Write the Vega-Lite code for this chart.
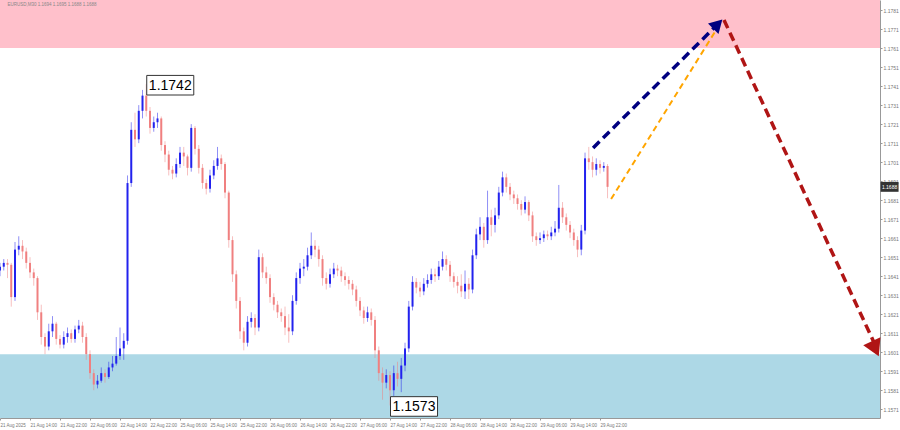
{
  "$schema": "https://vega.github.io/schema/vega-lite/v6.json",
  "width": 880,
  "height": 418,
  "autosize": "none",
  "padding": {"left": 0, "top": 0, "right": 20, "bottom": 12},
  "background": "white",
  "config": {"view": {"stroke": null}, "axis": {"grid": false, "labelOverlap": false}, "font": "Liberation Sans"},
  "datasets": {
    "zones": [
      {"zone": "resistance", "lo": 1.1761, "hi": 1.17863},
      {"zone": "support", "lo": 1.15664, "hi": 1.1600}
    ],
    "candles": [
      {"i":0,"o":1.1644,"h":1.1648,"l":1.1641,"c":1.1646},
      {"i":2,"o":1.1646,"h":1.1650,"l":1.1644,"c":1.1648},
      {"i":4,"o":1.1648,"h":1.1650,"l":1.1640,"c":1.1647},
      {"i":6,"o":1.1647,"h":1.1648,"l":1.1625,"c":1.1630},
      {"i":8,"o":1.1630,"h":1.1659,"l":1.1628,"c":1.1655},
      {"i":10,"o":1.1655,"h":1.1662,"l":1.1652,"c":1.1657},
      {"i":12,"o":1.1657,"h":1.1660,"l":1.1650,"c":1.1654},
      {"i":14,"o":1.1654,"h":1.1656,"l":1.1645,"c":1.1648},
      {"i":16,"o":1.1648,"h":1.1651,"l":1.1640,"c":1.1643},
      {"i":18,"o":1.1643,"h":1.1645,"l":1.1636,"c":1.1640},
      {"i":20,"o":1.1640,"h":1.1641,"l":1.1618,"c":1.1622},
      {"i":22,"o":1.1622,"h":1.1626,"l":1.1605,"c":1.1609},
      {"i":24,"o":1.1609,"h":1.1611,"l":1.1600,"c":1.1604},
      {"i":26,"o":1.1604,"h":1.1616,"l":1.1602,"c":1.1612},
      {"i":28,"o":1.1612,"h":1.1620,"l":1.1609,"c":1.1616},
      {"i":30,"o":1.1616,"h":1.1617,"l":1.1605,"c":1.1608},
      {"i":32,"o":1.1608,"h":1.1610,"l":1.1603,"c":1.1605},
      {"i":34,"o":1.1605,"h":1.1612,"l":1.1603,"c":1.1609},
      {"i":36,"o":1.1609,"h":1.1614,"l":1.1606,"c":1.1611},
      {"i":38,"o":1.1611,"h":1.1613,"l":1.1606,"c":1.1608},
      {"i":40,"o":1.1608,"h":1.1615,"l":1.1606,"c":1.1613},
      {"i":42,"o":1.1613,"h":1.1618,"l":1.1611,"c":1.1615},
      {"i":44,"o":1.1615,"h":1.1617,"l":1.1606,"c":1.1609},
      {"i":46,"o":1.1609,"h":1.1611,"l":1.1597,"c":1.1600},
      {"i":48,"o":1.1600,"h":1.1602,"l":1.1587,"c":1.1590},
      {"i":50,"o":1.1590,"h":1.1592,"l":1.1581,"c":1.1584},
      {"i":52,"o":1.1584,"h":1.1589,"l":1.1582,"c":1.1586},
      {"i":54,"o":1.1586,"h":1.1593,"l":1.1585,"c":1.1590},
      {"i":56,"o":1.1590,"h":1.1592,"l":1.1585,"c":1.1588},
      {"i":58,"o":1.1588,"h":1.1596,"l":1.1587,"c":1.1593},
      {"i":60,"o":1.1593,"h":1.1599,"l":1.1591,"c":1.1595},
      {"i":62,"o":1.1595,"h":1.1609,"l":1.1594,"c":1.1599},
      {"i":64,"o":1.1599,"h":1.1614,"l":1.1597,"c":1.1603},
      {"i":66,"o":1.1603,"h":1.1611,"l":1.1597,"c":1.1607},
      {"i":68,"o":1.1607,"h":1.1694,"l":1.1605,"c":1.1690},
      {"i":70,"o":1.1690,"h":1.1722,"l":1.1688,"c":1.1718},
      {"i":72,"o":1.1718,"h":1.1727,"l":1.1709,"c":1.1713},
      {"i":74,"o":1.1713,"h":1.1731,"l":1.1711,"c":1.1728},
      {"i":76,"o":1.1728,"h":1.1739,"l":1.1724,"c":1.1736},
      {"i":78,"o":1.1736,"h":1.1742,"l":1.1725,"c":1.1728},
      {"i":80,"o":1.1728,"h":1.1730,"l":1.1716,"c":1.1719},
      {"i":82,"o":1.1719,"h":1.1725,"l":1.1717,"c":1.1722},
      {"i":84,"o":1.1722,"h":1.1727,"l":1.1719,"c":1.1724},
      {"i":86,"o":1.1724,"h":1.1725,"l":1.1707,"c":1.1710},
      {"i":88,"o":1.1710,"h":1.1712,"l":1.1701,"c":1.1705},
      {"i":90,"o":1.1705,"h":1.1707,"l":1.1694,"c":1.1697},
      {"i":92,"o":1.1697,"h":1.1699,"l":1.1692,"c":1.1695},
      {"i":94,"o":1.1695,"h":1.1703,"l":1.1693,"c":1.1700},
      {"i":96,"o":1.1700,"h":1.1709,"l":1.1698,"c":1.1706},
      {"i":98,"o":1.1706,"h":1.1709,"l":1.1699,"c":1.1704},
      {"i":100,"o":1.1704,"h":1.1705,"l":1.1694,"c":1.1698},
      {"i":102,"o":1.1698,"h":1.1721,"l":1.1696,"c":1.1719},
      {"i":104,"o":1.1719,"h":1.1720,"l":1.1705,"c":1.1708},
      {"i":106,"o":1.1708,"h":1.1710,"l":1.1695,"c":1.1698},
      {"i":108,"o":1.1698,"h":1.1700,"l":1.1687,"c":1.1690},
      {"i":110,"o":1.1690,"h":1.1692,"l":1.1684,"c":1.1687},
      {"i":112,"o":1.1687,"h":1.1697,"l":1.1685,"c":1.1694},
      {"i":114,"o":1.1694,"h":1.1702,"l":1.1692,"c":1.1699},
      {"i":116,"o":1.1699,"h":1.1709,"l":1.1697,"c":1.1703},
      {"i":118,"o":1.1703,"h":1.1705,"l":1.1697,"c":1.1700},
      {"i":120,"o":1.1700,"h":1.1701,"l":1.1682,"c":1.1685},
      {"i":122,"o":1.1685,"h":1.1686,"l":1.1656,"c":1.1660},
      {"i":124,"o":1.1660,"h":1.1662,"l":1.1638,"c":1.1642},
      {"i":126,"o":1.1642,"h":1.1644,"l":1.1624,"c":1.1628},
      {"i":128,"o":1.1628,"h":1.1630,"l":1.1608,"c":1.1612},
      {"i":130,"o":1.1612,"h":1.1614,"l":1.1602,"c":1.1606},
      {"i":132,"o":1.1606,"h":1.1620,"l":1.1604,"c":1.1617},
      {"i":134,"o":1.1617,"h":1.1622,"l":1.1614,"c":1.1619},
      {"i":136,"o":1.1619,"h":1.1621,"l":1.1610,"c":1.1614},
      {"i":138,"o":1.1614,"h":1.1655,"l":1.1612,"c":1.1651},
      {"i":140,"o":1.1651,"h":1.1653,"l":1.1640,"c":1.1643},
      {"i":142,"o":1.1643,"h":1.1646,"l":1.1637,"c":1.1640},
      {"i":144,"o":1.1640,"h":1.1642,"l":1.1627,"c":1.1630},
      {"i":146,"o":1.1630,"h":1.1632,"l":1.1623,"c":1.1626},
      {"i":148,"o":1.1626,"h":1.1628,"l":1.1619,"c":1.1622},
      {"i":150,"o":1.1622,"h":1.1624,"l":1.1617,"c":1.1620},
      {"i":152,"o":1.1620,"h":1.1625,"l":1.1610,"c":1.1614},
      {"i":154,"o":1.1614,"h":1.1621,"l":1.1606,"c":1.1612},
      {"i":156,"o":1.1612,"h":1.1631,"l":1.1610,"c":1.1628},
      {"i":158,"o":1.1628,"h":1.1643,"l":1.1626,"c":1.1640},
      {"i":160,"o":1.1640,"h":1.1648,"l":1.1637,"c":1.1645},
      {"i":162,"o":1.1645,"h":1.1650,"l":1.1641,"c":1.1646},
      {"i":164,"o":1.1646,"h":1.1656,"l":1.1644,"c":1.1652},
      {"i":166,"o":1.1652,"h":1.1664,"l":1.1650,"c":1.1657},
      {"i":168,"o":1.1657,"h":1.1660,"l":1.1651,"c":1.1655},
      {"i":170,"o":1.1655,"h":1.1657,"l":1.1646,"c":1.1650},
      {"i":172,"o":1.1650,"h":1.1652,"l":1.1636,"c":1.1640},
      {"i":174,"o":1.1640,"h":1.1643,"l":1.1634,"c":1.1637},
      {"i":176,"o":1.1637,"h":1.1645,"l":1.1635,"c":1.1642},
      {"i":178,"o":1.1642,"h":1.1648,"l":1.1640,"c":1.1645},
      {"i":180,"o":1.1645,"h":1.1647,"l":1.1641,"c":1.1644},
      {"i":182,"o":1.1644,"h":1.1646,"l":1.1638,"c":1.1641},
      {"i":184,"o":1.1641,"h":1.1643,"l":1.1636,"c":1.1639},
      {"i":186,"o":1.1639,"h":1.1641,"l":1.1634,"c":1.1637},
      {"i":188,"o":1.1637,"h":1.1639,"l":1.1631,"c":1.1634},
      {"i":190,"o":1.1634,"h":1.1636,"l":1.1625,"c":1.1628},
      {"i":192,"o":1.1628,"h":1.1630,"l":1.1620,"c":1.1623},
      {"i":194,"o":1.1623,"h":1.1625,"l":1.1616,"c":1.1619},
      {"i":196,"o":1.1619,"h":1.1625,"l":1.1617,"c":1.1622},
      {"i":198,"o":1.1622,"h":1.1624,"l":1.1615,"c":1.1618},
      {"i":200,"o":1.1618,"h":1.1620,"l":1.1598,"c":1.1602},
      {"i":202,"o":1.1602,"h":1.1604,"l":1.1586,"c":1.1590},
      {"i":204,"o":1.1590,"h":1.1593,"l":1.1576,"c":1.1585},
      {"i":206,"o":1.1585,"h":1.1592,"l":1.1582,"c":1.1589},
      {"i":208,"o":1.1589,"h":1.1591,"l":1.1573,"c":1.1581},
      {"i":210,"o":1.1581,"h":1.1594,"l":1.1578,"c":1.1590},
      {"i":212,"o":1.1590,"h":1.1596,"l":1.1583,"c":1.1587},
      {"i":214,"o":1.1587,"h":1.1598,"l":1.1580,"c":1.1594},
      {"i":216,"o":1.1594,"h":1.1606,"l":1.1591,"c":1.1603},
      {"i":218,"o":1.1603,"h":1.1628,"l":1.1601,"c":1.1625},
      {"i":220,"o":1.1625,"h":1.1641,"l":1.1623,"c":1.1638},
      {"i":222,"o":1.1638,"h":1.1640,"l":1.1632,"c":1.1635},
      {"i":224,"o":1.1635,"h":1.1638,"l":1.1630,"c":1.1633},
      {"i":226,"o":1.1633,"h":1.1640,"l":1.1631,"c":1.1637},
      {"i":228,"o":1.1637,"h":1.1642,"l":1.1635,"c":1.1639},
      {"i":230,"o":1.1639,"h":1.1645,"l":1.1637,"c":1.1642},
      {"i":232,"o":1.1642,"h":1.1645,"l":1.1638,"c":1.1641},
      {"i":234,"o":1.1641,"h":1.1649,"l":1.1639,"c":1.1646},
      {"i":236,"o":1.1646,"h":1.1654,"l":1.1644,"c":1.1650},
      {"i":238,"o":1.1650,"h":1.1652,"l":1.1644,"c":1.1647},
      {"i":240,"o":1.1647,"h":1.1649,"l":1.1638,"c":1.1641},
      {"i":242,"o":1.1641,"h":1.1643,"l":1.1635,"c":1.1638},
      {"i":244,"o":1.1638,"h":1.1641,"l":1.1632,"c":1.1636},
      {"i":246,"o":1.1636,"h":1.1642,"l":1.1630,"c":1.1633},
      {"i":248,"o":1.1633,"h":1.1644,"l":1.1629,"c":1.1637},
      {"i":250,"o":1.1637,"h":1.1640,"l":1.1629,"c":1.1634},
      {"i":252,"o":1.1634,"h":1.1655,"l":1.1632,"c":1.1652},
      {"i":254,"o":1.1652,"h":1.1666,"l":1.1650,"c":1.1663},
      {"i":256,"o":1.1663,"h":1.1672,"l":1.1660,"c":1.1667},
      {"i":258,"o":1.1667,"h":1.1669,"l":1.1656,"c":1.1660},
      {"i":260,"o":1.1660,"h":1.1686,"l":1.1658,"c":1.1672},
      {"i":262,"o":1.1672,"h":1.1676,"l":1.1662,"c":1.1668},
      {"i":264,"o":1.1668,"h":1.1677,"l":1.1664,"c":1.1673},
      {"i":266,"o":1.1673,"h":1.1688,"l":1.1671,"c":1.1685},
      {"i":268,"o":1.1685,"h":1.1696,"l":1.1683,"c":1.1693},
      {"i":270,"o":1.1693,"h":1.1695,"l":1.1685,"c":1.1688},
      {"i":272,"o":1.1688,"h":1.1690,"l":1.1681,"c":1.1684},
      {"i":274,"o":1.1684,"h":1.1686,"l":1.1679,"c":1.1682},
      {"i":276,"o":1.1682,"h":1.1684,"l":1.1676,"c":1.1679},
      {"i":278,"o":1.1679,"h":1.1681,"l":1.1673,"c":1.1676},
      {"i":280,"o":1.1676,"h":1.1683,"l":1.1674,"c":1.1680},
      {"i":282,"o":1.1680,"h":1.1681,"l":1.1670,"c":1.1673},
      {"i":284,"o":1.1673,"h":1.1675,"l":1.1659,"c":1.1662},
      {"i":286,"o":1.1662,"h":1.1664,"l":1.1657,"c":1.1660},
      {"i":288,"o":1.1660,"h":1.1664,"l":1.1658,"c":1.1661},
      {"i":290,"o":1.1661,"h":1.1665,"l":1.1659,"c":1.1663},
      {"i":292,"o":1.1663,"h":1.1665,"l":1.1660,"c":1.1662},
      {"i":294,"o":1.1662,"h":1.1667,"l":1.1660,"c":1.1664},
      {"i":296,"o":1.1664,"h":1.1670,"l":1.1662,"c":1.1666},
      {"i":298,"o":1.1666,"h":1.1689,"l":1.1664,"c":1.1677},
      {"i":300,"o":1.1677,"h":1.1680,"l":1.1669,"c":1.1672},
      {"i":302,"o":1.1672,"h":1.1674,"l":1.1665,"c":1.1668},
      {"i":304,"o":1.1668,"h":1.1670,"l":1.1661,"c":1.1664},
      {"i":306,"o":1.1664,"h":1.1666,"l":1.1657,"c":1.1660},
      {"i":308,"o":1.1660,"h":1.1662,"l":1.1651,"c":1.1655},
      {"i":310,"o":1.1655,"h":1.1668,"l":1.1652,"c":1.1665},
      {"i":312,"o":1.1665,"h":1.1706,"l":1.1663,"c":1.1703},
      {"i":314,"o":1.1703,"h":1.1709,"l":1.1697,"c":1.1701},
      {"i":316,"o":1.1701,"h":1.1704,"l":1.1693,"c":1.1697},
      {"i":318,"o":1.1697,"h":1.1703,"l":1.1694,"c":1.1700},
      {"i":320,"o":1.1700,"h":1.1702,"l":1.1695,"c":1.1698},
      {"i":322,"o":1.1698,"h":1.1701,"l":1.1696,"c":1.1699},
      {"i":324,"o":1.1699,"h":1.1700,"l":1.1682,"c":1.1688}
    ],
    "navy": [{"i": 316.3, "p": 1.17085}, {"i": 382.8, "p": 1.17736}],
    "orange": [{"i": 325.9, "p": 1.16816}, {"i": 381.9, "p": 1.17705}],
    "red": [{"i": 386.1, "p": 1.17758}, {"i": 466.4, "p": 1.16055}],
    "navyHead": [{"i": 382.8, "p": 1.17736}],
    "redHead": [{"i": 466.8, "p": 1.16028}],
    "extremes": [{"label": "1.1742", "i": 78, "p": 1.1742}, {"label": "1.1573", "i": 208, "p": 1.1573}],
    "header": [{"text": "EURUSD,M30  1.1694 1.1695 1.1688 1.1688", "i": 4, "p": 1.17835}],
    "current": [{"label": "1.1688", "i": 474.4, "p": 1.1688}]
  },
  "layer": [
    {
      "data": {"name": "zones"},
      "mark": {"type": "rect"},
      "encoding": {
        "y": {"field": "lo", "type": "quantitative", "scale": {"domain": [1.15664, 1.17863], "nice": false, "zero": false},
          "axis": {"orient": "right", "title": null, "tickCount": 40, "values": [1.1571,1.1581,1.1591,1.1601,1.1611,1.1621,1.1631,1.1641,1.1651,1.1661,1.1671,1.1681,1.1691,1.1701,1.1711,1.1721,1.1731,1.1741,1.1751,1.1761,1.1771,1.1781], "format": ".4f", "labelFontSize": 5, "labelFont": "Liberation Sans", "labelColor": "#777777", "tickColor": "#999999", "tickSize": 2, "domainColor": "#999999", "labelPadding": 1, "labelOverlap": false, "labelBound": false, "grid": false}},
        "y2": {"field": "hi"},
        "color": {"condition": {"test": "datum.zone == 'resistance'", "value": "#ffc0cb"}, "value": "#add8e6"}
      }
    },
    {
      "data": {"name": "candles"},
      "mark": {"type": "rule", "strokeWidth": 1, "opacity": 0.5},
      "encoding": {
        "x": {"field": "i", "type": "quantitative", "scale": {"domain": [0, 469.3], "nice": false, "zero": false},
          "axis": {"orient": "bottom", "title": null, "tickCount": 40, "values": [0,16,32,48,64,80,96,112,128,144,160,176,192,208,224,240,256,272,288,304,320], "labelExpr": "['21 Aug 2025','21 Aug 14:00','21 Aug 22:00','22 Aug 06:00','22 Aug 14:00','22 Aug 22:00','25 Aug 06:00','25 Aug 14:00','25 Aug 22:00','26 Aug 06:00','26 Aug 14:00','26 Aug 22:00','27 Aug 06:00','27 Aug 14:00','27 Aug 22:00','28 Aug 06:00','28 Aug 14:00','28 Aug 22:00','29 Aug 06:00','29 Aug 14:00','29 Aug 22:00'][datum.value / 16]", "labelAlign": "left", "labelFontSize": 4.5, "labelFont": "Liberation Sans", "labelColor": "#777777", "tickColor": "#999999", "tickSize": 2, "domainColor": "#999999", "labelPadding": 2, "grid": false, "labelOverlap": false, "labelBound": false}},
        "y": {"field": "l", "type": "quantitative"},
        "y2": {"field": "h"},
        "color": {"condition": {"test": "datum.c >= datum.o", "value": "#2222ee"}, "value": "#f08080"}
      }
    },
    {
      "data": {"name": "candles"},
      "mark": {"type": "rule", "strokeWidth": 2},
      "encoding": {
        "x": {"field": "i", "type": "quantitative"},
        "y": {"field": "o", "type": "quantitative"},
        "y2": {"field": "c"},
        "color": {"condition": {"test": "datum.c >= datum.o", "value": "#2222ee"}, "value": "#f08080"}
      }
    },
    {
      "data": {"name": "orange"},
      "mark": {"type": "line", "color": "#ffa500", "strokeWidth": 2, "strokeDash": [6, 4]},
      "encoding": {"x": {"field": "i", "type": "quantitative"}, "y": {"field": "p", "type": "quantitative"}}
    },
    {
      "data": {"name": "navy"},
      "mark": {"type": "line", "color": "#000080", "strokeWidth": 3.5, "strokeDash": [9, 5]},
      "encoding": {"x": {"field": "i", "type": "quantitative"}, "y": {"field": "p", "type": "quantitative"}}
    },
    {
      "data": {"name": "red"},
      "mark": {"type": "line", "color": "#b01515", "strokeWidth": 3.5, "strokeDash": [9, 5]},
      "encoding": {"x": {"field": "i", "type": "quantitative"}, "y": {"field": "p", "type": "quantitative"}}
    },
    {
      "data": {"name": "navyHead"},
      "mark": {"type": "point", "shape": "triangle-up", "filled": true, "color": "#000080", "opacity": 1, "size": 220, "angle": 45},
      "encoding": {"x": {"field": "i", "type": "quantitative"}, "y": {"field": "p", "type": "quantitative"}}
    },
    {
      "data": {"name": "redHead"},
      "mark": {"type": "point", "shape": "triangle-up", "filled": true, "color": "#b01515", "opacity": 1, "size": 360, "angle": 155},
      "encoding": {"x": {"field": "i", "type": "quantitative"}, "y": {"field": "p", "type": "quantitative"}}
    },
    {
      "data": {"name": "extremes"},
      "mark": {"type": "point", "shape": "M-2.4,-1H2.4V1H-2.4Z", "filled": true, "fill": "white", "stroke": "#333333", "strokeWidth": 1, "opacity": 1, "size": 384, "xOffset": 24, "yOffset": 1},
      "encoding": {"x": {"field": "i", "type": "quantitative"}, "y": {"field": "p", "type": "quantitative"}}
    },
    {
      "data": {"name": "extremes"},
      "mark": {"type": "text", "font": "Liberation Sans", "fontSize": 14, "color": "#000000", "align": "center", "baseline": "middle", "xOffset": 24, "yOffset": 1.5},
      "encoding": {"x": {"field": "i", "type": "quantitative"}, "y": {"field": "p", "type": "quantitative"}, "text": {"field": "label"}}
    },
    {
      "data": {"name": "header"},
      "mark": {"type": "text", "fontSize": 4.5, "color": "#888888", "align": "left", "baseline": "middle"},
      "encoding": {"x": {"field": "i", "type": "quantitative"}, "y": {"field": "p", "type": "quantitative"}, "text": {"field": "text"}}
    },
    {
      "data": {"name": "current"},
      "mark": {"type": "point", "shape": "M-1,-0.55H1V0.55H-1Z", "filled": true, "color": "#333333", "opacity": 1, "size": 324},
      "encoding": {"x": {"field": "i", "type": "quantitative"}, "y": {"field": "p", "type": "quantitative"}}
    },
    {
      "data": {"name": "current"},
      "mark": {"type": "text", "fontSize": 5, "color": "#ffffff", "align": "center", "baseline": "middle"},
      "encoding": {"x": {"field": "i", "type": "quantitative"}, "y": {"field": "p", "type": "quantitative"}, "text": {"field": "label"}}
    }
  ]
}
